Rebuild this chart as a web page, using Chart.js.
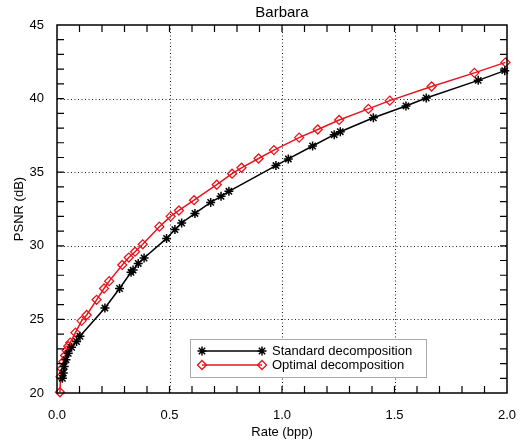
<!DOCTYPE html>
<html>
<head>
<meta charset="utf-8">
<script src="https://cdn.jsdelivr.net/npm/chart.js@4"></script>
<style>
  body { margin: 0; background: #fff; }
  #wrap { width: 527px; height: 443px; }
</style>
</head>
<body>
<div id="wrap"><canvas id="psnrChart" width="527" height="443"></canvas></div>
<script>
// Rate-distortion data
const stdRate = [0.024, 0.028, 0.032, 0.040, 0.050, 0.065, 0.087, 0.102, 0.213, 0.278,
  0.329, 0.338, 0.361, 0.387, 0.487, 0.524, 0.554, 0.613, 0.683, 0.729, 0.764, 0.973,
  1.028, 1.136, 1.232, 1.259, 1.406, 1.551, 1.641, 1.872, 1.990];
const stdPsnr = [21.0, 21.36, 21.8, 22.26, 22.7, 23.1, 23.5, 23.85, 25.77, 27.1,
  28.2, 28.35, 28.8, 29.17, 30.5, 31.1, 31.55, 32.2, 32.95, 33.36, 33.7, 35.45,
  35.9, 36.78, 37.55, 37.75, 38.7, 39.5, 40.04, 41.24, 41.9];

const optRate = [0.013, 0.016, 0.022, 0.028, 0.036, 0.043, 0.050, 0.059, 0.082, 0.109,
  0.132, 0.176, 0.209, 0.232, 0.290, 0.319, 0.347, 0.381, 0.455, 0.505, 0.542, 0.609,
  0.710, 0.778, 0.820, 0.896, 0.964, 1.076, 1.159, 1.254, 1.384, 1.479, 1.665, 1.855, 1.993];
const optPsnr = [20.05, 21.1, 21.65, 22.12, 22.55, 22.88, 23.18, 23.42, 24.1, 24.9,
  25.3, 26.33, 27.1, 27.6, 28.7, 29.2, 29.6, 30.1, 31.3, 32.0, 32.4, 33.1,
  34.15, 34.9, 35.3, 35.93, 36.5, 37.35, 37.9, 38.55, 39.3, 39.86, 40.82, 41.75, 42.46];

const seriesNames = ["Standard decomposition", "Optimal decomposition"];
const xTicks = [0, 0.5, 1.0, 1.5, 2.0];
const yTicks = [20, 25, 30, 35, 40, 45];

const FONT = "'Liberation Sans', Arial, Helvetica, sans-serif";

function toPoints(xs, ys) {
  return xs.map((x, i) => ({ x: x, y: ys[i] }));
}

// grid, inward ticks, frame, legend box and titles (IDL look)
const idlFrame = {
  id: "idlFrame",
  beforeDatasetsDraw(chart) {
    const ctx = chart.ctx;
    const a = chart.chartArea;
    const xs = chart.scales.x, ys = chart.scales.y;
    ctx.save();
    ctx.strokeStyle = "#222";
    ctx.lineWidth = 1;
    ctx.setLineDash([1, 2.5]);
    xTicks.slice(1, -1).forEach((v) => {
      const px = Math.round(xs.getPixelForValue(v)) + 0.5;
      ctx.beginPath(); ctx.moveTo(px, a.top); ctx.lineTo(px, a.bottom); ctx.stroke();
    });
    yTicks.slice(1, -1).forEach((v) => {
      const py = Math.round(ys.getPixelForValue(v)) + 0.5;
      ctx.beginPath(); ctx.moveTo(a.left, py); ctx.lineTo(a.right, py); ctx.stroke();
    });
    ctx.restore();
  },
  afterDatasetsDraw(chart) {
    const ctx = chart.ctx;
    const a = chart.chartArea;
    const xs = chart.scales.x, ys = chart.scales.y;
    ctx.save();
    ctx.setLineDash([]);
    ctx.strokeStyle = "#000";
    ctx.lineWidth = 1.5;
    ctx.strokeRect(a.left, a.top, a.right - a.left, a.bottom - a.top);

    // minor ticks pointing inward
    const tl = 7;
    ctx.lineWidth = 1.2;
    ctx.beginPath();
    for (let i = 1; i < 20; i++) {
      const px = xs.getPixelForValue(i / 10);
      ctx.moveTo(px, a.bottom); ctx.lineTo(px, a.bottom - tl);
      ctx.moveTo(px, a.top); ctx.lineTo(px, a.top + tl);
    }
    for (let v = 21; v < 45; v++) {
      const py = ys.getPixelForValue(v);
      ctx.moveTo(a.left, py); ctx.lineTo(a.left + tl, py);
      ctx.moveTo(a.right, py); ctx.lineTo(a.right - tl, py);
    }
    ctx.stroke();

    // legend box
    const bx = 190, by = 339, bw = 236, bh = 38;
    ctx.fillStyle = "#fff";
    ctx.fillRect(bx, by, bw, bh);
    ctx.strokeStyle = "#aaa";
    ctx.lineWidth = 1;
    ctx.strokeRect(bx + 0.5, by + 0.5, bw, bh);
    chart.data.datasets.forEach((ds, i) => {
      const ly = by + 12 + i * 14;
      const x0 = bx + 12, x1 = bx + 72;
      ctx.strokeStyle = ds.borderColor;
      ctx.lineWidth = ds.borderWidth;
      ctx.beginPath(); ctx.moveTo(x0, ly); ctx.lineTo(x1, ly); ctx.stroke();
      const opts = {
        pointStyle: ds.pointStyle, radius: ds.pointRadius,
        borderWidth: ds.pointBorderWidth, rotation: 0
      };
      ctx.strokeStyle = ds.pointBorderColor;
      ctx.fillStyle = ds.pointBackgroundColor;
      ctx.lineWidth = ds.pointBorderWidth;
      Chart.helpers.drawPoint(ctx, opts, x0, ly);
      Chart.helpers.drawPoint(ctx, opts, x1, ly);
      ctx.fillStyle = "#000";
      ctx.font = "13px " + FONT;
      ctx.textAlign = "left";
      ctx.textBaseline = "middle";
      ctx.fillText(ds.label, bx + 82, ly + 0.5);
    });

    // titles
    const cx = (a.left + a.right) / 2;
    ctx.fillStyle = "#000";
    ctx.textAlign = "center";
    ctx.textBaseline = "middle";
    ctx.font = "15px " + FONT;
    ctx.fillText("Barbara", cx, 12.5);
    ctx.font = "13px " + FONT;
    ctx.fillText("Rate (bpp)", cx, 432);
    ctx.translate(19, (a.top + a.bottom) / 2);
    ctx.rotate(-Math.PI / 2);
    ctx.fillText("PSNR (dB)", 0, 0);
    ctx.restore();
  }
};

const ctx = document.getElementById("psnrChart").getContext("2d");
new Chart(ctx, {
  type: "scatter",
  data: {
    datasets: [
      {
        label: seriesNames[0],
        data: toPoints(stdRate, stdPsnr),
        showLine: true,
        borderColor: "#000",
        borderWidth: 1.5,
        pointStyle: "star",
        pointRadius: 4.5,
        pointBorderWidth: 1.5,
        pointBorderColor: "#000",
        pointBackgroundColor: "#000",
        clip: false
      },
      {
        label: seriesNames[1],
        data: toPoints(optRate, optPsnr),
        showLine: true,
        borderColor: "#e8141c",
        borderWidth: 1.5,
        pointStyle: "rectRot",
        pointRadius: 4.5,
        pointBorderWidth: 1.3,
        pointBorderColor: "#e8141c",
        pointBackgroundColor: "rgba(255,255,255,0)",
        clip: false
      }
    ]
  },
  options: {
    responsive: false,
    animation: false,
    events: [],
    layout: { padding: { top: 25, right: 20, bottom: 0, left: 0 } },
    plugins: {
      legend: { display: false },
      title: { display: false },
      tooltip: { enabled: false }
    },
    scales: {
      x: {
        type: "linear",
        min: 0,
        max: 2,
        grid: { display: false },
        border: { display: false },
        afterBuildTicks: (s) => { s.ticks = xTicks.map((v) => ({ value: v })); },
        ticks: {
          color: "#000",
          font: { family: FONT, size: 13 },
          padding: 7,
          maxRotation: 0,
          callback: (v) => Number(v).toFixed(1)
        },
        afterFit: (s) => { s.height = 50; }
      },
      y: {
        type: "linear",
        min: 20,
        max: 45,
        grid: { display: false },
        border: { display: false },
        afterBuildTicks: (s) => { s.ticks = yTicks.map((v) => ({ value: v })); },
        ticks: {
          color: "#000",
          font: { family: FONT, size: 13 },
          padding: 5,
          callback: (v) => String(v)
        },
        afterFit: (s) => { s.width = 57; }
      }
    }
  },
  plugins: [idlFrame]
});
</script>
</body>
</html>
